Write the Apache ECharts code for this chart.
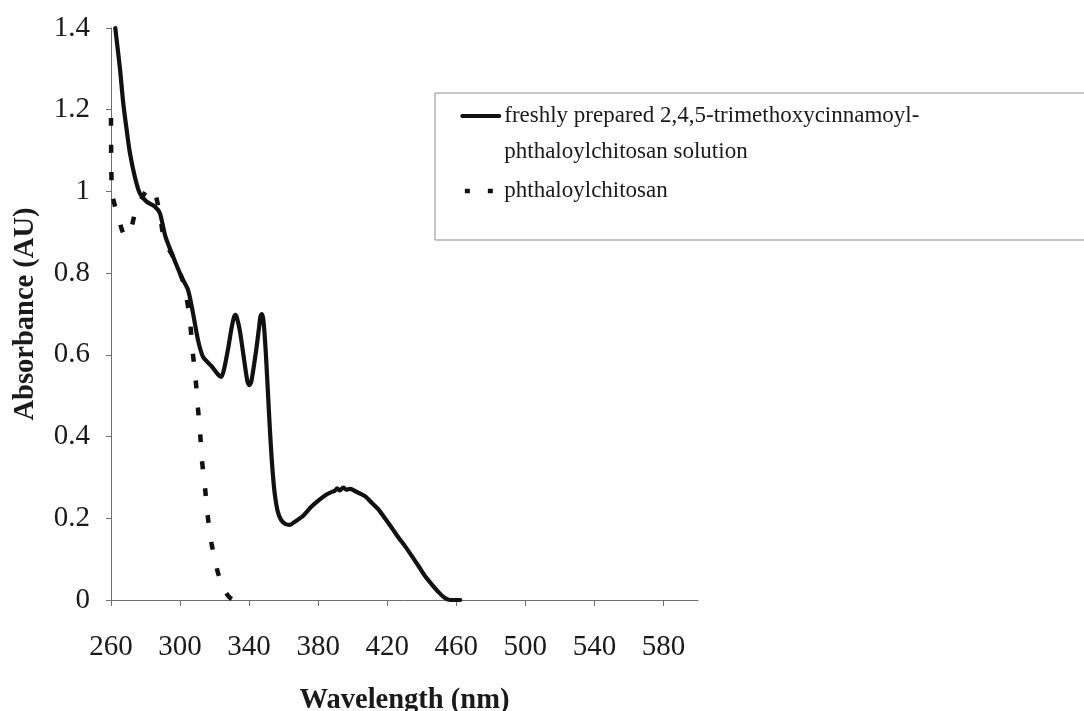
<!DOCTYPE html>
<html>
<head>
<meta charset="utf-8">
<title>UV-Vis absorbance spectra</title>
<script src="https://cdn.jsdelivr.net/npm/echarts@6/dist/echarts.min.js"></script>
<style>
  html, body { margin: 0; padding: 0; background: #ffffff; }
  #chart { width: 1084px; height: 711px; }
</style>
</head>
<body>
<div id="chart"></div>
<script>
// Series names
const solidName = 'freshly prepared 2,4,5-trimethoxycinnamoyl-phthaloylchitosan solution';
const dashedName = 'phthaloylchitosan';

// Wavelength axis tick labels (nm)
const xTicks = [260, 300, 340, 380, 420, 460, 500, 540, 580];

// Cinnamoyl derivative spectrum: wavelength (nm) and absorbance (AU)
const solidWavelength = [
  262.5, 263.3, 265.2, 267.1, 269.1, 271.0, 273.8, 276.7, 280.6, 285.4,
  288.3, 291.5, 296.0, 300.8, 304.6, 307.5, 310.4, 313.3, 318.1, 322.0,
  323.9, 325.5, 327.7, 329.8, 331.2, 332.1, 333.0, 334.6, 336.3, 339.0,
  340.2, 341.3, 344.1, 345.7, 346.6, 347.3, 348.1, 348.9, 349.8, 351.0,
  352.0, 353.0, 354.0, 355.0, 356.5, 358.5, 361.0, 363.5, 367.0, 371.0,
  376.0, 380.6, 384.0, 387.0, 389.5, 391.0, 392.5, 394.5, 396.5, 398.5,
  400.8, 403.5, 407.5, 411.0, 415.2, 419.0, 422.9, 426.5, 430.6, 434.5,
  438.3, 442.0, 446.0, 450.0, 453.7, 456.5, 462.3
];
const solidAbsorbance = [
  1.400, 1.370, 1.300, 1.216, 1.150, 1.093, 1.036, 0.995, 0.975, 0.963,
  0.947, 0.890, 0.840, 0.791, 0.759, 0.702, 0.636, 0.595, 0.573, 0.552,
  0.546, 0.565, 0.612, 0.665, 0.692, 0.698, 0.690, 0.660, 0.612, 0.535,
  0.526, 0.535, 0.612, 0.665, 0.695, 0.700, 0.690, 0.655, 0.595, 0.500,
  0.420, 0.350, 0.295, 0.255, 0.218, 0.196, 0.186, 0.184, 0.193, 0.205,
  0.228, 0.245, 0.256, 0.263, 0.267, 0.273, 0.268, 0.275, 0.270, 0.272,
  0.268, 0.262, 0.253, 0.238, 0.220, 0.198, 0.175, 0.153, 0.130, 0.106,
  0.082, 0.058, 0.037, 0.018, 0.004, 0.000, 0.000
];

// Phthaloylchitosan spectrum: wavelength (nm) and absorbance (AU)
const dashedWavelength = [
  260.0, 260.5, 262.9, 264.3, 266.0, 267.8, 270.0, 271.5, 273.8, 275.7,
  278.0, 280.6, 283.0, 285.0, 286.8, 288.3, 290.8, 296.0, 300.8, 302.7,
  305.6, 307.1, 308.9, 310.2, 311.6, 312.7, 314.5, 316.0, 318.3, 321.8,
  325.5, 328.7, 331.0
];
const dashedAbsorbance = [
  1.180, 1.000, 0.955, 0.942, 0.910, 0.893, 0.892, 0.905, 0.946, 0.965,
  0.985, 1.002, 1.008, 1.005, 0.975, 0.946, 0.881, 0.840, 0.791, 0.765,
  0.690, 0.616, 0.547, 0.477, 0.410, 0.341, 0.273, 0.206, 0.137, 0.069,
  0.025, 0.006, 0.000
];

const pairs = (xs, ys) => xs.map((x, i) => [x, ys[i]]);

const serif = '"Liberation Serif", "Times New Roman", "DejaVu Serif", serif';
const axisGray = '#6f6f6f';
const ink = '#1a1a1a';

const chart = echarts.init(document.getElementById('chart'), null, { renderer: 'canvas' });

chart.setOption({
  animation: false,
  backgroundColor: '#ffffff',
  grid: {
    left: 111, top: 28, right: 386, bottom: 111,
    containLabel: false,
    outerBoundsMode: 'none'
  },
  legend: {
    orient: 'vertical',
    align: 'left',
    left: 435,
    top: 93,
    padding: [-31, 220, 31, 25],
    itemWidth: 37,
    itemHeight: 14,
    itemGap: 3,
    borderColor: '#8c8c8c',
    borderWidth: 1,
    backgroundColor: 'transparent',
    itemStyle: { opacity: 0, borderWidth: 0 },
    textStyle: { fontFamily: serif, fontSize: 23, lineHeight: 36, color: ink },
    formatter: function (name) {
      if (name === solidName) {
        return '\nfreshly prepared 2,4,5-trimethoxycinnamoyl-\nphthaloylchitosan solution';
      }
      return name;
    },
    data: [
      { name: solidName, lineStyle: { width: 4 } },
      { name: dashedName, lineStyle: { width: 4.5, type: [5, 18], dashOffset: 20.4 } }
    ]
  },
  xAxis: {
    type: 'value',
    min: 260,
    max: 600,
    interval: 40,
    name: 'Wavelength (nm)',
    nameLocation: 'middle',
    nameGap: 86,
    nameTextStyle: { fontFamily: serif, fontWeight: 'bold', fontSize: 28.5, color: ink },
    axisLine: { show: true, lineStyle: { color: axisGray, width: 1 } },
    axisTick: { show: true, length: 6, customValues: xTicks, lineStyle: { color: axisGray, width: 1 } },
    axisLabel: { customValues: xTicks, fontFamily: serif, fontSize: 29, color: ink, margin: 33 },
    splitLine: { show: false }
  },
  yAxis: {
    type: 'value',
    min: 0,
    max: 1.4,
    interval: 0.2,
    name: 'Absorbance (AU)',
    nameLocation: 'middle',
    nameGap: 71,
    nameTextStyle: { fontFamily: serif, fontWeight: 'bold', fontSize: 28.5, color: ink },
    axisLine: { show: true, lineStyle: { color: axisGray, width: 1 } },
    axisTick: { show: true, length: 5, lineStyle: { color: axisGray, width: 1 } },
    axisLabel: { fontFamily: serif, fontSize: 29, color: ink, margin: 21 },
    splitLine: { show: false }
  },
  series: [
    {
      name: solidName,
      type: 'line',
      data: pairs(solidWavelength, solidAbsorbance),
      symbol: 'none',
      smooth: 0.25,
      clip: false,
      z: 2,
      lineStyle: { color: '#111111', width: 4.2, cap: 'round', join: 'round' },
      itemStyle: { color: '#111111' }
    },
    {
      name: dashedName,
      type: 'line',
      data: pairs(dashedWavelength, dashedAbsorbance),
      symbol: 'none',
      smooth: 0.2,
      clip: false,
      z: 3,
      lineStyle: { color: '#111111', width: 4.5, type: [8, 19], cap: 'butt' },
      itemStyle: { color: '#111111' }
    }
  ]
});
</script>
</body>
</html>
